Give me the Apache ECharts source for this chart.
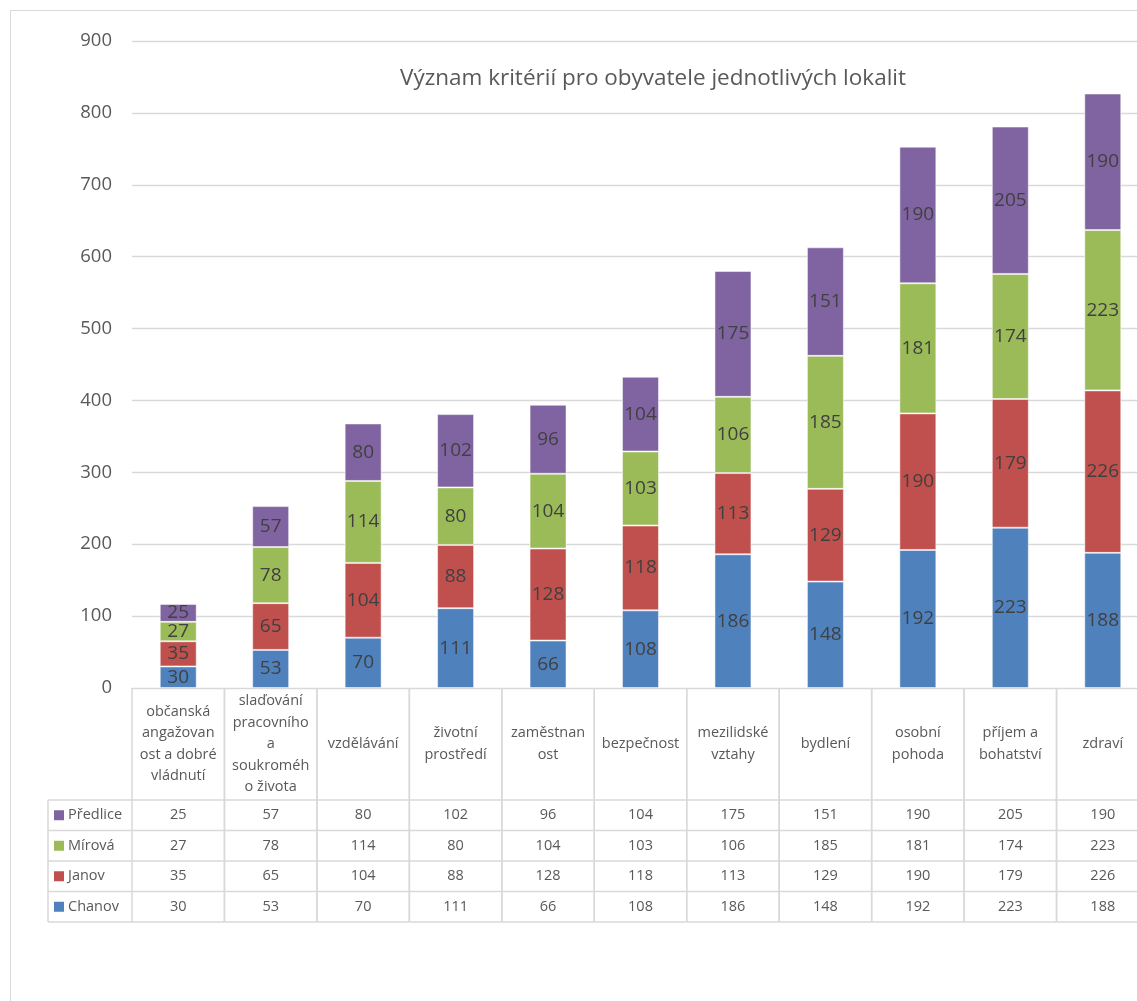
<!DOCTYPE html>
<html>
<head>
<meta charset="utf-8">
<script src="https://cdn.jsdelivr.net/npm/echarts@6/dist/echarts.min.js"></script>
<style>
html, body { margin: 0; padding: 0; overflow: hidden; background: #fff; }
#chart { position: absolute; left: 10px; top: 10px; width: 1160px; height: 1020px; border: 1px solid #d9d9d9; }
</style>
</head>
<body>
<div id="chart"></div>
<script>
// kategorie (zalomene jako v tabulce Excelu)
const categories = [
  'občanská\nangažovan\nost a dobré\nvládnutí',
  'slaďování\npracovního\na\nsoukroméh\no života',
  'vzdělávání',
  'životní\nprostředí',
  'zaměstnan\nost',
  'bezpečnost',
  'mezilidské\nvztahy',
  'bydlení',
  'osobní\npohoda',
  'příjem a\nbohatství',
  'zdraví'
]
const chanov   = [30, 53, 70, 111, 66, 108, 186, 148, 192, 223, 188]
const janov    = [35, 65, 104, 88, 128, 118, 113, 129, 190, 179, 226]
const mirova   = [27, 78, 114, 80, 104, 103, 106, 185, 181, 174, 223]
const predlice = [25, 57, 80, 102, 96, 104, 175, 151, 190, 205, 190]
const yTicks = { min: 0, max: 900, interval: 100 }

const FONT = '"Open Sans", sans-serif'
const TXT = '#595959'
const LINE = '#d9d9d9'

const seriesDefs = [
  { name: 'Chanov', data: chanov, color: '#4F81BD' },
  { name: 'Janov', data: janov, color: '#C0504D' },
  { name: 'Mírová', data: mirova, color: '#9BBB59' },
  { name: 'Předlice', data: predlice, color: '#8064A2' }
]
// v tabulce je poradi shora dolu opacne
const tableRows = seriesDefs.slice().reverse()

const HEADER_H = 112
const ROW_H = 30.5
const KEY_W = 84

const renderTable = (params, api) => {
  const i = api.value(0)
  const base = api.coord([i, 0])
  const w = api.size([1, 0])[0]
  const x0 = base[0] - w / 2, x1 = base[0] + w / 2, y0 = base[1]
  const yEnd = y0 + HEADER_H + ROW_H * tableRows.length
  const line = (ax, ay, bx, by) => ({
    type: 'line', shape: { x1: ax, y1: ay, x2: bx, y2: by },
    style: { stroke: LINE, lineWidth: 1.5 }
  })
  const text = (t, x, y, align) => ({
    type: 'text',
    style: { text: t, x: x, y: y, align: align || 'center', verticalAlign: 'middle',
      fill: TXT, fontSize: 14.5, fontFamily: FONT, lineHeight: 21.5 }
  })
  const children = [line(x0, y0, x0, yEnd), line(x1, y0, x1, yEnd)]
  children.push(text(categories[i], base[0], y0 + HEADER_H / 2))
  tableRows.forEach((r, k) => {
    const top = y0 + HEADER_H + k * ROW_H
    children.push(line(x0, top, x1, top))
    children.push(text(String(r.data[i]), base[0], top + ROW_H / 2))
  })
  children.push(line(x0, yEnd, x1, yEnd))

  if (i === 0) {
    // levy sloupec s legendou
    const xl = x0 - KEY_W
    children.push(line(xl, y0 + HEADER_H, xl, yEnd))
    tableRows.forEach((r, k) => {
      const top = y0 + HEADER_H + k * ROW_H
      children.push(line(xl, top, x0, top))
      children.push({ type: 'rect', shape: { x: xl + 6, y: top + ROW_H / 2 - 5, width: 10, height: 10 },
        style: { fill: r.color } })
      children.push(text(r.name, xl + 20, top + ROW_H / 2, 'left'))
    })
    children.push(line(xl, yEnd, x0, yEnd))
  }
  return { type: 'group', children }
}

const chart = echarts.init(document.getElementById('chart'))

const option = {
  animation: false,
  title: {
    text: 'Význam kritérií pro obyvatele jednotlivých lokalit',
    left: 637, top: 51, textAlign: 'center',
    textStyle: { fontFamily: FONT, fontSize: 22.5, fontWeight: 'normal', color: TXT }
  },
  grid: { left: 121, top: 30, width: 1017, height: 647 },
  xAxis: {
    type: 'category',
    data: categories,
    axisLine: { lineStyle: { color: LINE } },
    axisTick: { show: false },
    axisLabel: { show: false }
  },
  yAxis: {
    type: 'value',
    min: yTicks.min, max: yTicks.max, interval: yTicks.interval,
    axisLabel: { fontFamily: FONT, fontSize: 18.5, color: TXT, margin: 20 },
    splitLine: { lineStyle: { color: LINE, width: 1.3 } }
  },
  series: seriesDefs.map(s => ({
    name: s.name,
    type: 'bar',
    stack: 'total',
    data: s.data,
    barCategoryGap: '60%',
    itemStyle: { color: s.color, borderColor: 'rgba(255,255,255,0.5)', borderWidth: 1 },
    label: { show: true, position: 'inside', fontFamily: FONT, fontSize: 19, color: '#404040' }
  })).concat([{
    type: 'custom',
    renderItem: renderTable,
    data: categories.map((c, i) => [i, 0]),
    encode: { x: 0, y: 1 },
    clip: false,
    silent: true,
    z: 5
  }])
}

chart.setOption(option)
</script>
</body>
</html>
